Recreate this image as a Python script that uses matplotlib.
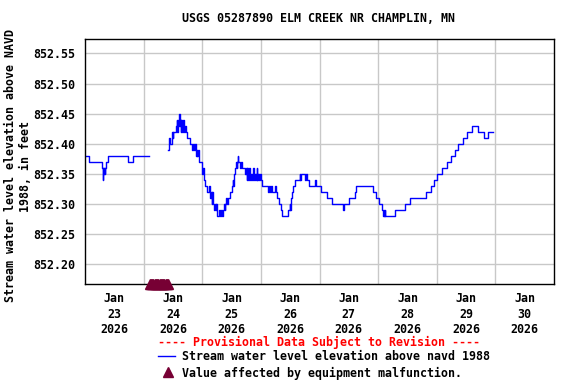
import numpy as np
import matplotlib
matplotlib.use("Agg")
import matplotlib.pyplot as plt
from matplotlib.lines import Line2D

# hours since Jan 23 2026 00:00, stage in feet (step changes)
seg1_hours = [0.0, 1.6, 7.0, 7.2, 7.4, 7.6, 7.8, 8.0, 8.3, 8.6, 9.4, 17.5, 19.7, 26.3]
seg1_level = [852.38, 852.37, 852.36, 852.34, 852.36, 852.35, 852.36, 852.35, 852.36,
              852.37, 852.38, 852.37, 852.38, 852.38]

seg2_hours = [34.1, 34.2, 34.5, 34.7, 35.7, 35.9, 36.2, 37.3, 37.5, 37.7, 37.9, 38.1, 38.5,
              38.8, 39.0, 39.2, 39.5, 39.8, 40.1, 40.4, 40.8, 41.3, 41.8, 43.1, 43.8, 44.2,
              44.5, 45.0, 45.4, 45.7, 46.0, 46.3, 46.7, 47.8, 48.1, 48.5, 48.8, 49.2, 49.8,
              50.8, 51.0, 51.5, 51.8, 52.1, 52.5, 52.9, 53.2, 53.5, 53.8, 54.1, 54.9, 55.2,
              55.5, 55.9, 56.6, 56.9, 57.2, 57.5, 57.9, 58.2, 58.5, 59.4, 60.1, 60.4, 60.6,
              60.8, 61.3, 61.9, 62.1, 62.4, 62.7, 62.8, 63.5, 63.8, 64.1, 65.3, 65.8, 66.2,
              66.5, 66.9, 67.2, 67.6, 68.0, 68.4, 68.8, 69.1, 69.5, 69.9, 70.3, 70.6, 71.0,
              71.4, 71.8, 72.2, 72.6, 75.0, 75.3, 75.7, 76.1, 76.7, 77.7, 78.0, 78.6, 79.5,
              80.1, 80.6, 83.3, 83.8, 84.0, 84.4, 84.8, 85.2, 85.9, 87.9, 88.2, 88.5, 90.1,
              90.4, 90.8, 91.5, 94.0, 94.7, 96.6, 99.1, 101.1, 105.6, 105.9, 108.0, 110.5,
              111.0, 117.9, 119.2, 120.4, 121.5, 122.0, 122.3, 122.5, 122.7, 122.8, 126.9,
              131.0, 133.0, 139.4, 141.5, 142.8, 144.3, 146.3, 148.1, 149.8, 151.4, 152.8,
              154.6, 156.3, 158.5, 160.8, 163.3, 164.8, 167.1]
seg2_level = [852.39, 852.40, 852.41, 852.40, 852.42, 852.41, 852.42, 852.43, 852.44, 852.42,
              852.44, 852.43, 852.45, 852.43, 852.44, 852.42, 852.44, 852.42, 852.44, 852.42,
              852.43, 852.42, 852.41, 852.40, 852.39, 852.40, 852.39, 852.40, 852.38, 852.39,
              852.38, 852.39, 852.37, 852.36, 852.35, 852.36, 852.34, 852.33, 852.32, 852.33,
              852.31, 852.32, 852.30, 852.32, 852.30, 852.29, 852.30, 852.29, 852.30, 852.28,
              852.29, 852.28, 852.29, 852.28, 852.29, 852.30, 852.29, 852.30, 852.31, 852.30,
              852.31, 852.32, 852.33, 852.34, 852.33, 852.35, 852.36, 852.37, 852.36, 852.37,
              852.38, 852.37, 852.36, 852.37, 852.36, 852.35, 852.36, 852.34, 852.36, 852.34,
              852.36, 852.34, 852.35, 852.34, 852.36, 852.34, 852.35, 852.34, 852.36, 852.34,
              852.35, 852.34, 852.35, 852.34, 852.33, 852.32, 852.33, 852.32, 852.33, 852.32,
              852.33, 852.32, 852.31, 852.30, 852.29, 852.28, 852.29, 852.30, 852.29, 852.31,
              852.32, 852.33, 852.34, 852.35, 852.34, 852.35, 852.34, 852.35, 852.34, 852.33,
              852.34, 852.33, 852.32, 852.31, 852.30, 852.29, 852.30, 852.31, 852.32, 852.33,
              852.32, 852.31, 852.30, 852.29, 852.28, 852.29, 852.28, 852.29, 852.28, 852.29,
              852.30, 852.31, 852.32, 852.33, 852.34, 852.35, 852.36, 852.37, 852.38, 852.39,
              852.40, 852.41, 852.42, 852.43, 852.42, 852.41, 852.42, 852.42]

# equipment malfunction flags (hours)
flag_hours = [26.5, 27.0, 27.5, 28.0, 28.5, 29.0, 29.5, 30.0, 30.5, 31.0, 31.5, 32.0,
              32.5, 33.0, 33.5, 34.0]

day_labels = ["Jan\n23\n2026", "Jan\n24\n2026", "Jan\n25\n2026", "Jan\n26\n2026",
              "Jan\n27\n2026", "Jan\n28\n2026", "Jan\n29\n2026", "Jan\n30\n2026"]
y_ticks = [852.20, 852.25, 852.30, 852.35, 852.40, 852.45, 852.50, 852.55]

FONT = dict(family="DejaVu Sans Mono", weight="bold", size=8.4)
plt.rcParams["font.family"] = "DejaVu Sans Mono"
plt.rcParams["font.weight"] = "bold"
plt.rcParams["font.size"] = 8.4

W, H = 576, 384
fig = plt.figure(figsize=(W / 100, H / 100), dpi=100)
ax = fig.add_axes([85 / W, 1 - 284 / H, (554 - 85) / W, (284 - 39) / H])

x = np.array(seg1_hours + [np.nan] + seg2_hours) / 24.0
y = np.array(seg1_level + [np.nan] + seg2_level)
ax.plot(x, y, color="#0000ff", lw=1.0, drawstyle="steps-post")

ax.plot(np.array(flag_hours) / 24.0, [852.1675] * len(flag_hours), "^",
        color="#770034", ms=6.5, mec="#770034", clip_on=False, zorder=5)

ax.set_xlim(0, 8)
ax.set_ylim(852.167, 852.574)
ax.set_xticks(np.arange(len(day_labels)) + 0.5)
ax.set_xticklabels(day_labels, linespacing=1.25)
ax.set_xticks(np.arange(1, 8), minor=True)
ax.set_yticks(y_ticks)
ax.set_yticklabels(["%.2f" % v for v in y_ticks])
ax.tick_params(which="both", length=0)
ax.tick_params(axis="x", pad=6)
ax.tick_params(axis="y", pad=7)
ax.grid(True, which="minor", axis="x", color="#c8c8c8", lw=1)
ax.grid(True, which="major", axis="y", color="#c8c8c8", lw=1)
ax.grid(False, which="major", axis="x")
for s in ax.spines.values():
    s.set_linewidth(1.0)

fig.text(319 / W, 1 - 19 / H, "USGS 05287890 ELM CREEK NR CHAMPLIN, MN",
         ha="center", va="center", **FONT)
fig.text(18 / W, 1 - 166 / H, "Stream water level elevation above NAVD\n1988, in feet",
         rotation=90, ha="center", va="center", multialignment="center",
         linespacing=1.2, **FONT)

fig.text(158 / W, 1 - 342 / H, "---- Provisional Data Subject to Revision ----",
         color="#ff0000", ha="left", va="center", **FONT)
fig.add_artist(Line2D([158 / W, 175 / W], [1 - 356 / H, 1 - 356 / H], color="#0000ff", lw=1))
fig.text(182 / W, 1 - 356 / H, "Stream water level elevation above navd 1988",
         ha="left", va="center", **FONT)
fig.add_artist(Line2D([168 / W], [1 - 372 / H], marker="^", color="#770034", ms=7.5))
fig.text(182 / W, 1 - 373 / H, "Value affected by equipment malfunction.",
         ha="left", va="center", **FONT)

fig.savefig("out.png", dpi=100)
